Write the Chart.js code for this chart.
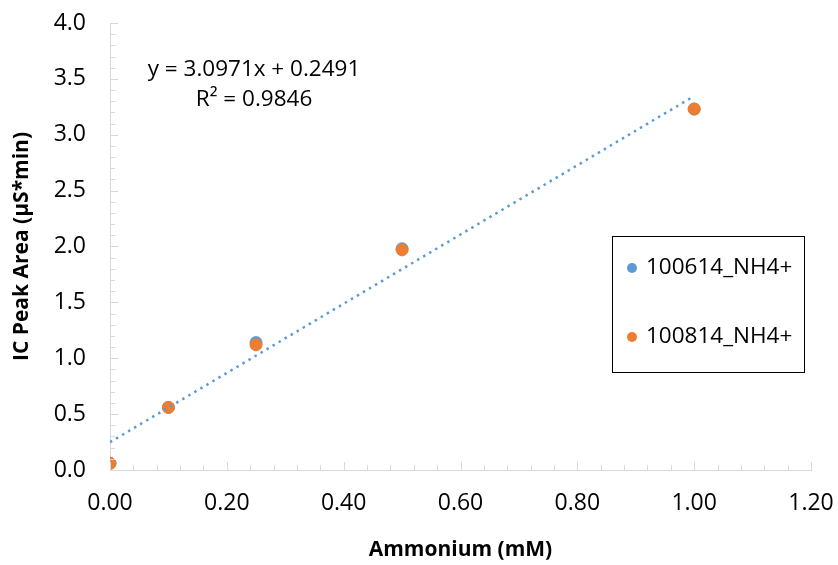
<!DOCTYPE html>
<html>
<head>
<meta charset="utf-8">
<script src="https://cdn.jsdelivr.net/npm/chart.js@4/dist/chart.umd.min.js"></script>
<style>
  html, body { margin: 0; padding: 0; background: #fff; }
  #wrap { width: 838px; height: 565px; }
</style>
</head>
<body>
<div id="wrap"><canvas id="calChart" width="838" height="565"></canvas></div>
<script>
const concentrations = [0, 0.1, 0.25, 0.5, 1.0];
const run100614 = [0.06, 0.56, 1.14, 1.98, 3.23];
const run100814 = [0.06, 0.56, 1.12, 1.97, 3.23];
const seriesNames = ['100614_NH4+', '100814_NH4+'];
const slope = 3.0971;
const intercept = 0.2491;
const rSquared = 0.9846;
const trendX = [0, 1.0];

const blue = '#5b9bd5';
const orange = '#ed7d31';
const font = '"Open Sans", sans-serif';

function pts(xs, ys) {
    return xs.map((x, i) => ({ x: x, y: ys[i] }));
}

// excel-ish tick marks drawn inward, plus equation and boxed legend
const extras = {
    id: 'extras',
    afterDraw(chart) {
        const ctx = chart.ctx;
        const xs = chart.scales.x, ys = chart.scales.y;
        ctx.save();
        ctx.strokeStyle = '#d9d9d9';
        ctx.lineWidth = 1;
        ctx.beginPath();
        for (let v = 0; v <= 1.2001; v += 0.04) {
            const px = Math.round(xs.getPixelForValue(v)) + 0.5;
            const major = Math.abs(v / 0.2 - Math.round(v / 0.2)) < 0.01;
            ctx.moveTo(px, xs.top);
            ctx.lineTo(px, xs.top - (major ? 8 : 5));
        }
        for (let v = 0; v <= 4.0001; v += 0.1) {
            const py = Math.round(ys.getPixelForValue(v)) + 0.5;
            const major = Math.abs(v / 0.5 - Math.round(v / 0.5)) < 0.01;
            ctx.moveTo(ys.right, py);
            ctx.lineTo(ys.right + (major ? 8 : 5), py);
        }
        ctx.stroke();

        ctx.fillStyle = '#000';
        ctx.font = '22.5px ' + font;
        ctx.textAlign = 'center';
        ctx.textBaseline = 'middle';
        ctx.fillText('y = ' + slope.toFixed(4) + 'x + ' + intercept.toFixed(4), 254, 70);
        ctx.fillText('R² = ' + rSquared.toFixed(4), 254, 100);

        // legend box
        ctx.strokeStyle = '#000';
        ctx.strokeRect(612.5, 236.5, 192, 136);
        const cols = [blue, orange];
        const rowsY = [268, 337];
        ctx.textAlign = 'left';
        ctx.font = '22.5px ' + font;
        seriesNames.forEach((name, i) => {
            ctx.fillStyle = cols[i];
            ctx.beginPath();
            ctx.arc(632, rowsY[i], 5, 0, Math.PI * 2);
            ctx.fill();
            ctx.fillStyle = '#000';
            ctx.fillText(name, 646, rowsY[i]);
        });
        ctx.restore();
    }
};

new Chart(document.getElementById('calChart').getContext('2d'), {
    type: 'scatter',
    data: {
        datasets: [
            {
                type: 'line',
                label: 'trend',
                data: trendX.map(x => ({ x: x, y: slope * x + intercept })),
                borderColor: blue,
                borderWidth: 2.5,
                borderDash: [2.5, 4.5],
                pointRadius: 0,
                fill: false,
                order: -1
            },
            {
                label: seriesNames[0],
                data: pts(concentrations, run100614),
                backgroundColor: blue,
                borderColor: blue,
                pointRadius: 6,
                order: 2
            },
            {
                label: seriesNames[1],
                data: pts(concentrations, run100814),
                backgroundColor: orange,
                borderColor: orange,
                pointRadius: 6,
                order: 1
            }
        ]
    },
    options: {
        responsive: false,
        animation: false,
        layout: { padding: { top: 23, right: 27, left: 0, bottom: 0 } },
        plugins: {
            legend: { display: false },
            tooltip: { enabled: false }
        },
        scales: {
            x: {
                type: 'linear',
                min: 0,
                max: 1.2,
                afterFit: s => { s.height = 95; s.paddingLeft = 0; s.paddingRight = 0; },
                border: { display: true, color: '#d9d9d9', width: 1 },
                grid: { display: false, drawTicks: false },
                ticks: {
                    stepSize: 0.2,
                    padding: 20,
                    color: '#000',
                    font: { family: font, size: 23 },
                    callback: v => v.toFixed(2)
                },
                title: {
                    display: true,
                    text: 'Ammonium (mM)',
                    color: '#000',
                    font: { family: font, size: 21, weight: 'bold' },
                    padding: { top: 0, bottom: 2 }
                }
            },
            y: {
                min: 0,
                max: 4.0,
                afterFit: s => { s.width = 110; s.paddingTop = 0; s.paddingBottom = 0; },
                border: { display: true, color: '#d9d9d9', width: 1 },
                grid: { display: false, drawTicks: false },
                ticks: {
                    stepSize: 0.5,
                    padding: 24,
                    color: '#000',
                    font: { family: font, size: 23 },
                    callback: v => v.toFixed(1)
                },
                title: {
                    display: true,
                    text: 'IC Peak Area (µS*min)',
                    color: '#000',
                    font: { family: font, size: 21, weight: 'bold' },
                    padding: { top: 9, bottom: 0 }
                }
            }
        }
    },
    plugins: [extras]
});
</script>
</body>
</html>
